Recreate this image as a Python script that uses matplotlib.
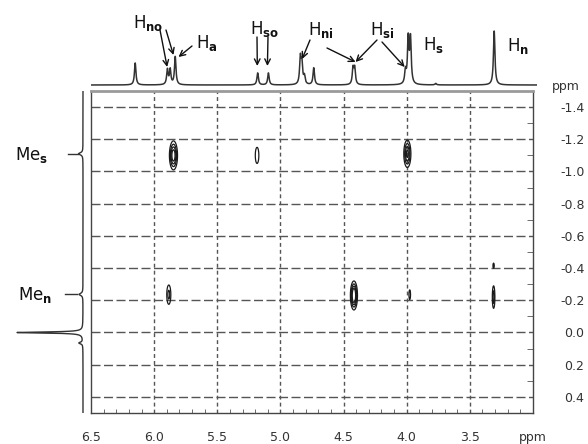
import numpy as np
import matplotlib.pyplot as plt

# ---------------- data (ppm) ----------------
# 1D proton spectrum on top: peak position, height (arbitrary)
top_pos = [6.150, 5.895, 5.873, 5.833, 5.180, 5.095, 4.842, 4.830, 4.810,
           4.736, 4.425, 4.412, 4.010, 3.988, 3.970, 3.770, 3.307]
top_hgt = [22, 15, 15, 28, 12, 12, 26, 20, 8,
           17, 16, 16, 13, 45, 45, 1.5, 54]

# 1D spectrum on the left (methyl region): position, height
side_pos = [-1.110, -0.237, 0.000, 0.065]
side_hgt = [4.5, 4.0, 66, 4.0]
side_wid = [0.008, 0.008, 0.004, 0.006]

# cross peaks: x ppm, y ppm, half extent x, half extent y, amplitude
cx = [5.847, 5.185, 3.995, 5.884, 4.418, 3.976, 3.312, 3.312]
cy = [-1.10, -1.10, -1.11, -0.235, -0.23, -0.235, -0.22, -0.415]
chx = [0.032, 0.014, 0.028, 0.016, 0.028, 0.006, 0.010, 0.005]
chy = [0.090, 0.050, 0.085, 0.060, 0.090, 0.030, 0.070, 0.016]
camp = [1.5, 0.15, 1.2, 0.4, 2.0, 0.3, 0.5, 0.2]

xticks = [6.5, 6.0, 5.5, 5.0, 4.5, 4.0, 3.5, 3.0]
xlabels = ['6.5', '6.0', '5.5', '5.0', '4.5', '4.0', '3.5', 'ppm']
yticks = [-1.4, -1.2, -1.0, -0.8, -0.6, -0.4, -0.2, 0.0, 0.2, 0.4]

# labels on the top trace and where their arrows point (ppm, height)
hlabels = [r'H$_\mathbf{no}$', r'H$_\mathbf{a}$', r'H$_\mathbf{so}$', r'H$_\mathbf{ni}$',
           r'H$_\mathbf{si}$', r'H$_\mathbf{s}$', r'H$_\mathbf{n}$']
hlab_px = [(133, 28), (196, 48), (250, 34), (308, 35), (370, 35), (423, 50), (507, 51)]
arrows = [((160, 30), 5.897, 18), ((166, 30), 5.847, 30), ((192, 46), 5.807, 28),
          ((257, 37), 5.183, 19), ((268, 37), 5.103, 19),
          ((310, 40), 4.828, 26), ((327, 48), 4.405, 23),
          ((377, 40), 4.405, 23), ((382, 42), 4.016, 18)]

W, H = 588, 444
fig = plt.figure(figsize=(W / 100, H / 100), dpi=100)


def box(l, t, r, b):
    return [l / W, 1 - b / H, (r - l) / W, (b - t) / H]


ax = fig.add_axes(box(91, 91, 533, 413))
ax_top = fig.add_axes(box(91, 8, 537, 88))
ax_side = fig.add_axes(box(5, 91, 91, 413), sharey=ax)

######## 2D map ########
xx = np.linspace(6.5, 3.0, 1400)
yy = np.linspace(-1.5, 0.5, 900)
X, Y = np.meshgrid(xx, yy)
Z = np.zeros_like(X)
lev0 = 0.1
for x0, y0, hx, hy, a in zip(cx, cy, chx, chy, camp):
    k = np.sqrt(2 * np.log(a / lev0))
    sx, sy = hx / k, hy / k
    Z += a * np.exp(-0.5 * (((X - x0) / sx) ** 2 + ((Y - y0) / sy) ** 2))
ax.contour(X, Y, Z, levels=[0.1, 0.3, 0.6, 1.0], colors='#1a1a1a', linewidths=0.9)

for v in xticks[1:-1]:
    ax.axvline(v, color='#555555', lw=1, ls=(0, (2.8, 2.2)), zorder=0)
for v in yticks:
    ax.axhline(v, color='#555555', lw=1, ls=(0, (6.5, 2.5)), zorder=0)

ax.set_xlim(6.5, 3.0)
ax.set_ylim(0.5, -1.5)
ax.set_xticks(xticks)
ax.set_xticklabels(xlabels)
ax.set_xticks(np.arange(3.0, 6.55, 0.1), minor=True)
ax.yaxis.tick_right()
ax.set_yticks(yticks)
ax.set_yticklabels(['%.1f' % v if v >= 0 else '-%.1f' % abs(v) for v in yticks])
ax.set_yticks(np.arange(-1.5, 0.55, 0.1), minor=True)
ax.tick_params(axis='x', which='major', length=0, pad=13, labelsize=9, labelcolor='#333333')
ax.tick_params(axis='x', which='minor', direction='in', length=3, color='#555555')
ax.tick_params(axis='y', which='major', length=0, pad=37, labelsize=9, labelcolor='#333333')
ax.tick_params(axis='y', which='minor', direction='in', length=4, color='#555555')
plt.setp(ax.get_yticklabels(), ha='right')
for s in ax.spines.values():
    s.set_color('#444444')
    s.set_linewidth(1)
ax.spines['top'].set_color('#9a9a9a')
ax.spines['top'].set_linewidth(2)

######## top trace ########
xt = np.linspace(6.5, 2.968, 4000)
gam = 0.007
yt = np.zeros_like(xt)
for p, h in zip(top_pos, top_hgt):
    yt += h * gam ** 2 / ((xt - p) ** 2 + gam ** 2)
ax_top.plot(xt, yt, color='#333333', lw=1.1)
ax_top.set_xlim(6.5, 2.968)
ax_top.set_ylim(-3, 77)
ax_top.axis('off')

for (px, py), xp, hv in arrows:
    ax_top.annotate('', xy=(xp, hv), xycoords='data', xytext=(px, H - py),
                    textcoords='figure pixels',
                    arrowprops=dict(arrowstyle='->', color='#111111', lw=1,
                                    shrinkA=0, shrinkB=0))
for t, (px, py) in zip(hlabels, hlab_px):
    fig.text(px / W, 1 - py / H, t, fontsize=12, ha='left', va='baseline', color='#111111')
fig.text(552 / W, 1 - 90 / H, 'ppm', fontsize=9, ha='left', va='baseline', color='#333333')

######## side trace ########
ys = np.linspace(-1.5, 0.5, 4000)
xs = np.zeros_like(ys)
for p, h, g in zip(side_pos, side_hgt, side_wid):
    xs += h * g ** 2 / ((ys - p) ** 2 + g ** 2)
ax_side.plot(xs, ys, color='#333333', lw=1)
ax_side.plot([15, 5], [side_pos[0], side_pos[0]], color='#333333', lw=1)
ax_side.plot([18, 6], [side_pos[1], side_pos[1]], color='#333333', lw=1)
ax_side.set_xlim(78, -8)
ax_side.axis('off')
fig.text(15 / W, 1 - 160 / H, r'Me$_\mathbf{s}$', fontsize=12, ha='left', va='baseline', color='#111111')
fig.text(18 / W, 1 - 300 / H, r'Me$_\mathbf{n}$', fontsize=12, ha='left', va='baseline', color='#111111')

fig.savefig('out.png', dpi=100)
